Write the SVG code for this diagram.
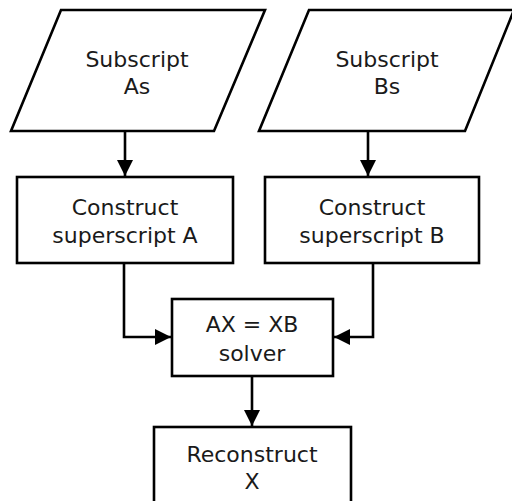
<svg xmlns="http://www.w3.org/2000/svg" width="512" height="501" viewBox="0 0 512 501">
  <style>
    .shape { fill: #ffffff; stroke: #000000; stroke-width: 2.6; }
    .edge { fill: none; stroke: #000000; stroke-width: 2.6; }
    .label { font-family: "DejaVu Sans", "Liberation Sans", sans-serif; font-size: 22px; fill: #1a1a1a; text-anchor: middle; }
  </style>
  <defs>
    <marker id="arrow" viewBox="0 0 16 16" refX="16" refY="8" markerWidth="16" markerHeight="16" markerUnits="userSpaceOnUse" orient="auto">
      <path d="M0,0 L16,8 L0,16 Z" fill="#000000"/>
    </marker>
  </defs>
  <rect width="512" height="501" fill="#ffffff"/>

  <g id="connectors">
    <path class="edge" d="M125,131 V176" marker-end="url(#arrow)"/>
    <path class="edge" d="M368,131 V176" marker-end="url(#arrow)"/>
    <path class="edge" d="M124,263 V337 H171" marker-end="url(#arrow)"/>
    <path class="edge" d="M373,263 V337 H334" marker-end="url(#arrow)"/>
    <path class="edge" d="M252,376 V426" marker-end="url(#arrow)"/>
  </g>

  <g id="subscript-as">
    <polygon class="shape" points="61,10 265,10 214,131 11,131"/>
    <text class="label" x="137" y="67">Subscript</text>
    <text class="label" x="137" y="94">As</text>
  </g>

  <g id="subscript-bs">
    <polygon class="shape" points="309,10 514,10 465,131 259,131"/>
    <text class="label" x="387" y="67">Subscript</text>
    <text class="label" x="387" y="94">Bs</text>
  </g>

  <g id="construct-a">
    <rect class="shape" x="17" y="177" width="216" height="86"/>
    <text class="label" x="125" y="215">Construct</text>
    <text class="label" x="125" y="243">superscript A</text>
  </g>

  <g id="construct-b">
    <rect class="shape" x="265" y="177" width="214" height="86"/>
    <text class="label" x="372" y="215">Construct</text>
    <text class="label" x="372" y="243">superscript B</text>
  </g>

  <g id="solver">
    <rect class="shape" x="172" y="299" width="161" height="77"/>
    <text class="label" x="252" y="332">AX = XB</text>
    <text class="label" x="252" y="361">solver</text>
  </g>

  <g id="reconstruct-x">
    <rect class="shape" x="154" y="427" width="197" height="90"/>
    <text class="label" x="252" y="462">Reconstruct</text>
    <text class="label" x="252" y="489">X</text>
  </g>
</svg>
